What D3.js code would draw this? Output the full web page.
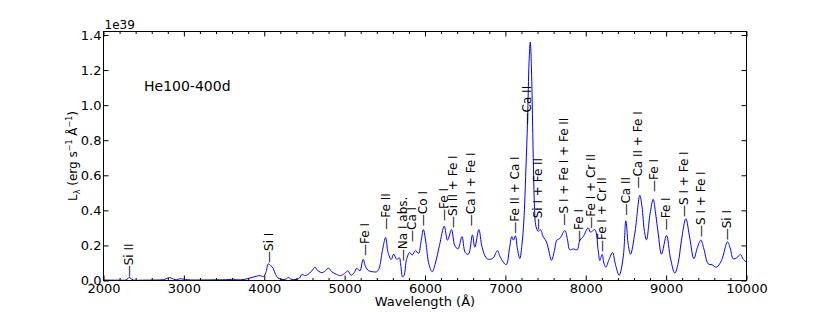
<!DOCTYPE html>
<html>
<head>
<meta charset="utf-8">
<script src="https://cdn.jsdelivr.net/npm/d3@7"></script>
<style>
  body { margin: 0; background: #fff; }
  svg text { font-family: "DejaVu Sans", sans-serif; fill: #000; }
</style>
</head>
<body>
<div id="chart"></div>
<script>
// spectrum, flux in units of 1e39 erg/s/A
var waves = [2000,2100,2200,2280,2305,2320,2340,2370,2500,2650,2750,2800,2830,2870,2910,2950,2990,3050,3200,3400,3550,3620,3660,3750,3820,3900,3950,3990,4020,4050,4080,4110,4140,4170,4220,4270,4300,4330,4400,4440,4470,4510,4560,4600,4630,4670,4720,4760,4800,4840,4900,4950,5000,5040,5080,5120,5150,5190,5230,5260,5300,5350,5400,5430,5470,5510,5540,5580,5610,5650,5680,5700,5720,5740,5770,5810,5840,5880,5920,5950,5980,6010,6050,6090,6130,6180,6240,6280,6330,6370,6410,6460,6500,6540,6590,6620,6670,6710,6760,6800,6850,6900,6940,7010,7050,7080,7100,7125,7150,7180,7205,7230,7255,7276,7295,7310,7325,7338,7350,7362,7380,7408,7437,7470,7512,7540,7574,7610,7640,7678,7740,7770,7802,7844,7893,7927,7968,8030,8059,8113,8155,8175,8204,8225,8250,8290,8333,8370,8416,8466,8499,8530,8557,8611,8673,8700,8730,8756,8800,8839,8870,8901,8943,9005,9055,9108,9150,9191,9245,9295,9345,9390,9432,9470,9523,9570,9627,9689,9763,9800,9834,9880,9925,9960,10000];
var flux = [0.003,0.002,0.002,0.003,0.012,0.018,0.012,0.003,0.002,0.003,0.005,0.014,0.016,0.008,0.004,0.010,0.008,0.004,0.003,0.004,0.005,0.007,0.004,0.006,0.014,0.024,0.028,0.022,0.045,0.095,0.085,0.07,0.035,0.015,0.006,0.008,0.018,0.008,0.006,0.015,0.035,0.028,0.04,0.06,0.075,0.055,0.045,0.055,0.07,0.05,0.035,0.028,0.04,0.055,0.03,0.045,0.07,0.055,0.12,0.08,0.055,0.05,0.05,0.07,0.17,0.245,0.16,0.12,0.15,0.12,0.13,0.08,0.02,0.03,0.12,0.16,0.145,0.17,0.155,0.22,0.29,0.22,0.09,0.05,0.1,0.2,0.31,0.23,0.29,0.2,0.18,0.25,0.16,0.15,0.26,0.19,0.29,0.19,0.13,0.12,0.13,0.17,0.13,0.09,0.18,0.25,0.23,0.255,0.18,0.125,0.2,0.34,0.63,0.91,1.25,1.36,1.2,0.91,0.63,0.42,0.31,0.28,0.29,0.25,0.22,0.17,0.115,0.17,0.23,0.24,0.285,0.24,0.175,0.18,0.175,0.23,0.25,0.30,0.276,0.29,0.17,0.114,0.149,0.1,0.076,0.12,0.16,0.09,0.03,0.133,0.34,0.2,0.15,0.27,0.486,0.42,0.28,0.232,0.38,0.463,0.38,0.27,0.15,0.257,0.124,0.042,0.1,0.23,0.352,0.24,0.124,0.19,0.23,0.18,0.095,0.09,0.076,0.114,0.22,0.18,0.124,0.13,0.149,0.12,0.105];

// line identifications: name, wavelength, flux level where the marker starts
var lineNames = ["Si II","Si I","Fe I","Fe II","Na I abs.","Ca I","Co I","Fe I","Si II + Fe I","Ca I + Fe I","Fe II + Ca I","Ca II","Si I + Fe II","S I + Fe I + Fe II","Fe I","Fe I + Cr II","Fe I + Cr II","Ca II","Ca II + Fe I","Fe I","Fe I","S I + Fe I","S I + Fe I","Si I"];
var lineWaves = [2321,4058,5253,5514,5729,5845,5978,6235,6350,6571,7118,7274,7408,7727,7914,8072,8204,8499,8652,8847,9005,9224,9432,9763];
var lineLevels = [0.018,0.10,0.14,0.29,0.11,0.22,0.31,0.34,0.30,0.31,0.267,0.89,0.286,0.314,0.22,0.295,0.162,0.37,0.524,0.505,0.286,0.362,0.248,0.229];

var xTicks = [2000,3000,4000,5000,6000,7000,8000,9000,10000];
var yTicks = [0.0,0.2,0.4,0.6,0.8,1.0,1.2,1.4];

var W = 830, H = 312;
var margin = {top: 31.5, right: 83.5, bottom: 31.5, left: 103.5};

var svg = d3.select("#chart").append("svg")
    .attr("width", W)
    .attr("height", H);

var x = d3.scaleLinear().domain([2000, 10000]).range([margin.left, W - margin.right]);
var y = d3.scaleLinear().domain([0, 1.42]).range([H - margin.bottom, margin.top]);

var minorX = d3.range(2000, 10001, 200).filter(function(d){ return d % 1000 !== 0; });

// spectrum
var line = d3.line()
    .x(function(d, i){ return x(waves[i]); })
    .y(function(d){ return y(d); })
    .curve(d3.curveCatmullRom.alpha(0.5));

svg.append("defs").append("clipPath").attr("id", "clip")
  .append("rect")
    .attr("x", margin.left).attr("y", margin.top)
    .attr("width", W - margin.left - margin.right)
    .attr("height", H - margin.top - margin.bottom);

svg.append("path")
    .datum(flux)
    .attr("clip-path", "url(#clip)")
    .attr("d", line)
    .attr("fill", "none")
    .attr("stroke", "#0000ff")
    .attr("stroke-width", 1);

// axes, ticks pointing in
function styleAxis(g) {
  g.select(".domain").remove();
  g.selectAll(".tick line").attr("stroke", "#000").attr("stroke-width", 1);
  g.selectAll("text").attr("font-size", "13px").attr("font-family", "DejaVu Sans");
}

svg.append("g")
    .attr("transform", "translate(0," + (H - margin.bottom) + ")")
    .call(d3.axisBottom(x).tickValues(xTicks).tickFormat(d3.format("d")).tickSizeInner(-5).tickSizeOuter(0).tickPadding(3))
    .call(styleAxis);
svg.append("g")
    .attr("transform", "translate(0," + (H - margin.bottom) + ")")
    .call(d3.axisBottom(x).tickValues(minorX).tickSize(-2.5).tickFormat(""))
    .call(styleAxis);
svg.append("g")
    .attr("transform", "translate(0," + margin.top + ")")
    .call(d3.axisTop(x).tickValues(xTicks).tickSize(-5).tickFormat(""))
    .call(styleAxis);
svg.append("g")
    .attr("transform", "translate(0," + margin.top + ")")
    .call(d3.axisTop(x).tickValues(minorX).tickSize(-2.5).tickFormat(""))
    .call(styleAxis);

svg.append("g")
    .attr("transform", "translate(" + margin.left + ",0)")
    .call(d3.axisLeft(y).tickValues(yTicks).tickFormat(d3.format(".1f")).tickSizeInner(-5).tickSizeOuter(0).tickPadding(2))
    .call(styleAxis);
svg.append("g")
    .attr("transform", "translate(" + (W - margin.right) + ",0)")
    .call(d3.axisRight(y).tickValues(yTicks).tickSize(-5).tickFormat(""))
    .call(styleAxis);

// frame
svg.append("rect")
    .attr("x", margin.left).attr("y", margin.top)
    .attr("width", W - margin.left - margin.right)
    .attr("height", H - margin.top - margin.bottom)
    .attr("fill", "none")
    .attr("stroke", "#000")
    .attr("stroke-width", 1);

// offset text
svg.append("text")
    .attr("x", margin.left + 1)
    .attr("y", margin.top - 3)
    .attr("font-size", "12px")
    .text("1e39");

// axis labels
svg.append("text")
    .attr("x", (margin.left + W - margin.right) / 2)
    .attr("y", 306)
    .attr("text-anchor", "middle")
    .attr("font-size", "13px")
    .text("Wavelength (\u00c5)");

var ylab = svg.append("text")
    .attr("transform", "translate(77," + ((margin.top + H - margin.bottom) / 2) + ") rotate(-90)")
    .attr("text-anchor", "middle")
    .attr("font-size", "12px");
ylab.append("tspan").text("L");
ylab.append("tspan").attr("font-size", "8px").attr("dy", 3).text("\u03bb");
ylab.append("tspan").attr("dy", -3).text(" (erg s");
ylab.append("tspan").attr("font-size", "8px").attr("dy", -5).text("\u22121");
ylab.append("tspan").attr("dy", 5).text(" \u00c5");
ylab.append("tspan").attr("font-size", "8px").attr("dy", -5).text("\u22121");
ylab.append("tspan").attr("dy", 5).text(")");

// model name
svg.append("text")
    .attr("x", 144)
    .attr("y", 91)
    .attr("font-size", "14px")
    .text("He100-400d");

// line identifications, dash + name, rotated
svg.append("g").selectAll("text")
    .data(lineNames)
    .enter().append("text")
    .attr("transform", function(d, i){
      return "translate(" + x(lineWaves[i]) + "," + y(lineLevels[i]) + ") rotate(-90)";
    })
    .attr("dy", "0.32em")
    .attr("font-size", "12px")
    .text(function(d){ return "\u2014" + d; });
</script>
</body>
</html>
